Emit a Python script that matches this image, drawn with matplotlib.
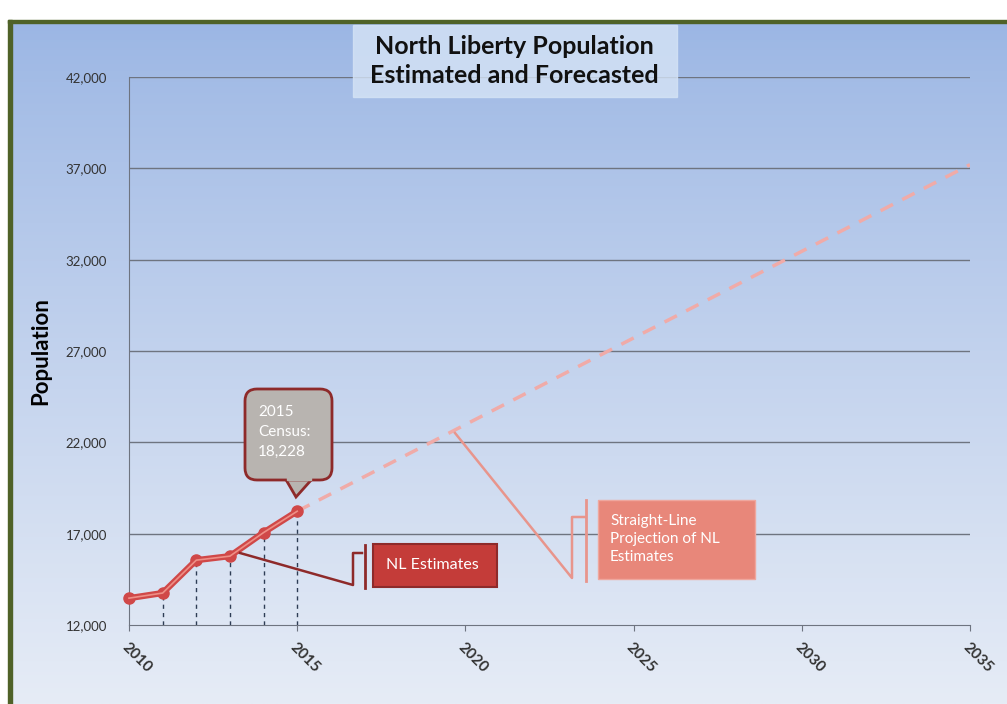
import numpy as np
import matplotlib
matplotlib.use("Agg")
from matplotlib import pyplot as plt
from matplotlib.patches import FancyBboxPatch, Rectangle, Polygon

plt.rcParams['font.family'] = ['Lato', 'DejaVu Sans']

# data
est_years = [2010, 2011, 2012, 2013, 2014, 2015]
est_pop = [13470, 13750, 15550, 15770, 17060, 18228]
proj_years = [2015, 2035]
proj_pop = [18228, 37200]
y_ticks = [12000, 17000, 22000, 27000, 32000, 37000, 42000]
x_ticks = [2010, 2015, 2020, 2025, 2030, 2035]

W, H = 1007, 704
fig = plt.figure(figsize=(W / 100, H / 100), dpi=100)
fig.patch.set_facecolor('white')

# gradient background inside the frame
bg = fig.add_axes([0, 0, 1, 1], zorder=0)
top = np.array([155, 182, 228]) / 255
bot = np.array([230, 236, 246]) / 255
t = np.linspace(0, 1, 256)[:, None] ** 0.9
grad = top * (1 - t) + bot * t
bg.imshow(grad[:, None, :].repeat(2, axis=1), aspect='auto',
          extent=[10, W, H, 21])
bg.set_xlim(0, W)
bg.set_ylim(H, 0)
bg.axis('off')
bg.add_patch(Rectangle((8, 20), 4, H - 20, color='#4F6228'))
bg.add_patch(Rectangle((8, 20), W - 8, 3, color='#4F6228'))

ax = fig.add_axes([129 / W, 1 - 625 / H, (970 - 129) / W, (625 - 77) / H], zorder=1)
ax.patch.set_alpha(0)
ax.set_xlim(2010, 2035)
ax.set_ylim(12000, 42000)

for y in y_ticks[1:]:
    ax.axhline(y, color='#6E7480', lw=1.0, zorder=1)
for s in ['top', 'right']:
    ax.spines[s].set_visible(False)
ax.spines['left'].set_color('#6E7480')
ax.spines['bottom'].set_color('#6E7480')

ax.set_yticks(y_ticks)
ax.set_yticklabels([f"{v:,}" for v in y_ticks], fontsize=9.5, color='#333333')
ax.set_xticks(x_ticks)
ax.set_xticklabels([str(v) for v in x_ticks], rotation=-45, ha='left', va='top',
                   fontsize=11, fontweight='bold', color='#333333',
                   rotation_mode='anchor')
ax.tick_params(axis='y', length=0, pad=16)
ax.tick_params(axis='x', length=4, color='#6E7480', pad=7)
ax.set_ylabel('Population', fontsize=16, fontweight='bold', labelpad=10)

# drop lines
for x, y in zip(est_years[1:], est_pop[1:]):
    ax.plot([x, x], [12000, y], ls=(0, (3, 3)), color='#2E3D55', lw=1.0, zorder=2)

# projection
ax.plot(proj_years, proj_pop, ls=(0, (4, 3)), color='#F0ABA8', lw=2.5, zorder=3)

# estimates
ax.plot(est_years, est_pop, color='#D04848', lw=4.5, marker='o', ms=8,
        solid_capstyle='round', zorder=4, clip_on=False)
ax.plot(est_years, est_pop, color='#EE8F86', lw=1.2, zorder=5, clip_on=False)

# overlay in pixel coordinates for callouts / title
ov = fig.add_axes([0, 0, 1, 1], zorder=3)
ov.set_xlim(0, W)
ov.set_ylim(H, 0)
ov.axis('off')

# title box
ov.add_patch(Rectangle((353, 25), 324, 72, color='#D6E4F6', alpha=0.8))
ov.text(514, 61, 'North Liberty Population\nEstimated and Forecasted',
        ha='center', va='center', fontsize=18, fontweight='bold',
        color='#111111', linespacing=1.3)

# NL Estimates callout
ov.plot([240, 353, 353, 362], [553, 585, 553, 553], color='#8E2A2A', lw=1.8)
ov.plot([365, 365], [545, 588], color='#8E2A2A', lw=2)
ov.add_patch(Rectangle((373, 544), 124, 43, facecolor='#C43C39',
                       edgecolor='#8E2A2A', lw=1.5))
ov.text(386, 565, 'NL Estimates', ha='left', va='center', fontsize=11.5,
        color='white')

# projection callout
ov.plot([455, 572, 572, 585], [433, 578, 517, 517], color='#E8958C', lw=1.8)
ov.plot([586, 586], [500, 581], color='#E8958C', lw=2)
ov.add_patch(Rectangle((598, 500), 157, 79, facecolor='#E8877A',
                       edgecolor='#EFA79E', lw=1.0))
ov.text(610, 539, 'Straight-Line\nProjection of NL\nEstimates', ha='left',
        va='center', fontsize=11, color='white', linespacing=1.35)

# census callout
ov.add_patch(Polygon([[285, 478], [296, 497], [313, 478]], closed=True,
                     facecolor='#B8B4B0', edgecolor='#8E2A2A', lw=2))
ov.add_patch(FancyBboxPatch((245, 389), 87, 91, boxstyle='round,pad=0,rounding_size=12',
                            facecolor='#B8B4B0', edgecolor='#8E2A2A', lw=2))
ov.add_patch(Rectangle((287, 474), 24, 6, color='#B8B4B0'))
ov.text(258, 432, '2015\nCensus:\n18,228', ha='left', va='center',
        fontsize=11, color='white', linespacing=1.5)

fig.savefig('out.png', dpi=100)
